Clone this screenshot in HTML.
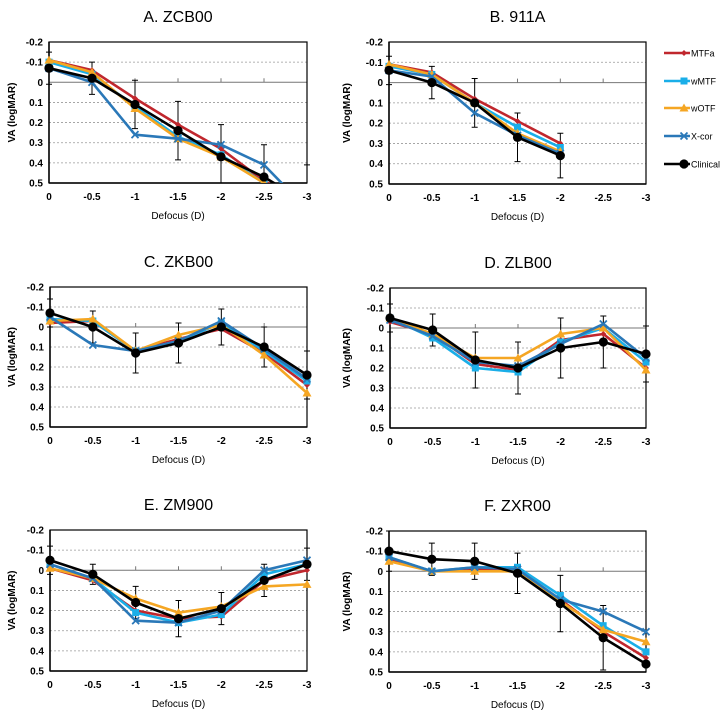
<!DOCTYPE html>
<html><head><meta charset="utf-8"><style>
html,body{margin:0;padding:0;background:#fff;}
svg{display:block;font-family:"Liberation Sans",sans-serif;}
</style></head><body>
<svg id="fig" width="724" height="717" viewBox="0 0 724 717" xmlns="http://www.w3.org/2000/svg"></svg>
<script>
const xTickLabels = ["0","-0.5","-1","-1.5","-2","-2.5","-3"];
const yTickValues = [-0.2,-0.1,0,0.1,0.2,0.3,0.4,0.5];
const seriesNames = ["MTFa","wMTF","wOTF","X-cor","Clinical"];
const panelTitles = ["A. ZCB00","B. 911A","C. ZKB00","D. ZLB00","E. ZM900","F. ZXR00"];

const aMTFa = [-0.11,-0.06,0.08,0.21,0.33,0.49,0.6];
const aWMTF = [-0.10,-0.04,0.12,0.27,0.36,0.50,0.6];
const aWOTF = [-0.11,-0.05,0.13,0.28,0.37,0.50,0.6];
const aXcor = [-0.07,0.00,0.26,0.28,0.31,0.41,0.63];
const aClin = [-0.07,-0.02,0.11,0.24,0.37,0.47,0.6];
const aErr  = [0.08,0.08,0.12,0.145,0.16,0.16,0.19];

const bMTFa = [-0.09,-0.05,0.08,0.19,0.30];
const bWMTF = [-0.08,-0.04,0.10,0.22,0.32];
const bWOTF = [-0.09,-0.04,0.10,0.25,0.34];
const bXcor = [-0.06,-0.03,0.15,0.26,0.35];
const bClin = [-0.06,0.00,0.10,0.27,0.36];
const bErr  = [0.07,0.08,0.12,0.12,0.11];

const cMTFa = [-0.02,-0.03,0.12,0.06,0.01,0.13,0.29];
const cWMTF = [-0.04,-0.03,0.12,0.07,-0.02,0.12,0.27];
const cWOTF = [-0.03,-0.04,0.12,0.04,-0.01,0.14,0.33];
const cXcor = [-0.05,0.09,0.12,0.07,-0.03,0.11,0.26];
const cClin = [-0.07,0.00,0.13,0.08,0.00,0.10,0.24];
const cErr  = [0.07,0.08,0.10,0.10,0.09,0.10,0.12];

const dMTFa = [-0.03,0.03,0.18,0.21,0.06,0.03,0.20];
const dWMTF = [-0.05,0.05,0.20,0.22,0.07,0.00,0.17];
const dWOTF = [-0.05,0.03,0.15,0.15,0.03,0.00,0.21];
const dXcor = [-0.04,0.04,0.17,0.19,0.08,-0.02,0.15];
const dClin = [-0.05,0.01,0.16,0.20,0.10,0.07,0.13];
const dErr  = [0.07,0.08,0.14,0.13,0.15,0.13,0.14];

const eMTFa = [-0.01,0.05,0.20,0.24,0.23,0.05,0.00];
const eWMTF = [-0.03,0.04,0.21,0.26,0.22,0.02,-0.03];
const eWOTF = [-0.01,0.04,0.14,0.21,0.18,0.08,0.07];
const eXcor = [-0.03,0.04,0.25,0.26,0.20,0.00,-0.05];
const eClin = [-0.05,0.02,0.16,0.24,0.19,0.05,-0.03];
const eErr  = [0.07,0.05,0.08,0.09,0.08,0.08,0.08];

const fMTFa = [-0.06,0.00,-0.01,0.00,0.14,0.30,0.43];
const fWMTF = [-0.07,0.00,-0.02,-0.02,0.12,0.27,0.40];
const fWOTF = [-0.05,0.00,0.00,0.00,0.15,0.29,0.35];
const fXcor = [-0.07,0.00,-0.02,-0.01,0.14,0.20,0.30];
const fClin = [-0.10,-0.06,-0.05,0.01,0.16,0.33,0.46];
const fErr  = [0.10,0.08,0.09,0.10,0.14,0.16,0];

const NS="http://www.w3.org/2000/svg";
const svg=document.getElementById('fig');
const colors=["#c0272d","#1aaee8","#f5a623","#2a78b8","#000000"];
function mk(tag,attrs,parent){const e=document.createElementNS(NS,tag);for(const k in attrs)e.setAttribute(k,attrs[k]);(parent||svg).appendChild(e);return e;}

const panels=[
 {L:49,R:307,T:42,B:183,data:[aMTFa,aWMTF,aWOTF,aXcor,aClin],err:aErr,left:true},
 {L:389,R:646,T:42,B:184,data:[bMTFa,bWMTF,bWOTF,bXcor,bClin],err:bErr,left:false},
 {L:50,R:307,T:287,B:427,data:[cMTFa,cWMTF,cWOTF,cXcor,cClin],err:cErr,left:true},
 {L:390,R:646,T:288,B:428,data:[dMTFa,dWMTF,dWOTF,dXcor,dClin],err:dErr,left:false},
 {L:50,R:307,T:530,B:671,data:[eMTFa,eWMTF,eWOTF,eXcor,eClin],err:eErr,left:true},
 {L:389,R:646,T:531,B:672,data:[fMTFa,fWMTF,fWOTF,fXcor,fClin],err:fErr,left:false}
];

function marker(g,s,x,y){
  const c=colors[s];let m;
  if(s===0){m=mk('polygon',{points:`${x},${y-3} ${x+3},${y} ${x},${y+3} ${x-3},${y}`,fill:c},g);}
  else if(s===1){m=mk('rect',{x:x-3.5,y:y-3.5,width:7,height:7,fill:c},g);}
  else if(s===2){m=mk('polygon',{points:`${x},${y-4.5} ${x+4.5},${y+3.5} ${x-4.5},${y+3.5}`,fill:c},g);}
  else if(s===3){m=mk('path',{d:`M${x-3.5},${y-3.5}L${x+3.5},${y+3.5}M${x+3.5},${y-3.5}L${x-3.5},${y+3.5}`,stroke:c,'stroke-width':1.8,fill:'none'},g);}
  else {m=mk('circle',{cx:x,cy:y,r:4.6,fill:c},g);}
  
  
}

panels.forEach((p,pi)=>{
  const g=mk('g',{});
  
  
  const xs=v=>p.L+(p.R-p.L)*v/6;
  const ys=v=>p.T+(p.B-p.T)*(v+0.2)/0.7;
  const cx=(p.L+p.R)/2;
  const t=mk('text',{x:cx,y:p.T-20,'text-anchor':'middle','font-size':16},g);t.textContent=panelTitles[pi];
  
  // grid
  yTickValues.forEach(v=>{
    if(v===0||v===0.5||v===-0.2)return;
    const gl=mk('line',{x1:p.L,x2:p.R,y1:ys(v),y2:ys(v),stroke:'#999','stroke-width':0.8,'stroke-dasharray':'2,2'},g);
    
  });
  const zl=mk('line',{x1:p.L,x2:p.R,y1:ys(0),y2:ys(0),stroke:'#777','stroke-width':1},g);
  
  for(let i=1;i<6;i++){mk('line',{x1:xs(i),x2:xs(i),y1:ys(0),y2:ys(0)-4,stroke:'#777','stroke-width':1},g);}
  // frame
  const fr=mk('rect',{x:p.L,y:p.T,width:p.R-p.L,height:p.B-p.T,fill:'none',stroke:'#000','stroke-width':1.2},g);
  
  mk('line',{x1:p.L,x2:p.L,y1:p.T,y2:p.B,stroke:'#000','stroke-width':1.5},g);
  mk('line',{x1:p.L,x2:p.R,y1:p.B,y2:p.B,stroke:'#000','stroke-width':1.5},g);
  // y ticks
  yTickValues.forEach(v=>{
    const tt=mk('text',{x:p.L-6,y:ys(v)+3.5,'text-anchor':'end','font-size':10,'font-weight':'bold'},g);
    tt.textContent=(Math.round(v*10)/10).toString();
    
  });
  xTickLabels.forEach((l,i)=>{
    const tt=mk('text',{x:xs(i),y:p.B+17,'text-anchor':'middle','font-size':10,'font-weight':'bold'},g);
    tt.textContent=l;
  });
  const xl=mk('text',{x:cx,y:p.B+36,'text-anchor':'middle','font-size':10},g);xl.textContent='Defocus (D)';
  
  const yx=p.left?15:350, yy=(p.T+p.B)/2;
  const yl=mk('text',{x:yx,y:yy,'text-anchor':'middle','font-size':10,'font-weight':'bold',transform:`rotate(-90 ${yx} ${yy})`},g);
  yl.textContent='VA (logMAR)';
  // clip
  const cid='clip'+pi;
  const cp=mk('clipPath',{id:cid},g);mk('rect',{x:p.L-6,y:p.T-8,width:p.R-p.L+12,height:p.B-p.T+8},cp);
  const dg=mk('g',{'clip-path':`url(#${cid})`},g);
  // error bars
  const clin=p.data[4];
  p.err.forEach((e,i)=>{
    if(!e)return;
    const x=xs(i),y1=ys(clin[i]-e),y2=ys(clin[i]+e);
    const eb=mk('path',{d:`M${x},${y1}V${y2}M${x-3},${y1}H${x+3}M${x-3},${y2}H${x+3}`,stroke:'#000','stroke-width':1,fill:'none'},dg);
    
  });
  p.data.forEach((arr,s)=>{
    const pts=arr.map((v,i)=>xs(i)+','+ys(v)).join(' ');
    const pl=mk('polyline',{points:pts,fill:'none',stroke:colors[s],'stroke-width':2.6,'stroke-linejoin':'round'},dg);
    
    arr.forEach((v,i)=>{ if(v<=0.5) marker(dg,s,xs(i),ys(v)); });
  });
});

// legend
const lg=mk('g',{});


const legY=[53,81,108,136,164];
seriesNames.forEach((n,s)=>{
  const eg=mk('g',{},lg);
  
  
  mk('line',{x1:664,x2:690,y1:legY[s],y2:legY[s],stroke:colors[s],'stroke-width':2.6},eg);
  marker(eg,s,684,legY[s]);
  const t=mk('text',{x:691,y:legY[s]+3.5,'font-size':9},eg);t.textContent=n;
});
</script>
</body></html>
